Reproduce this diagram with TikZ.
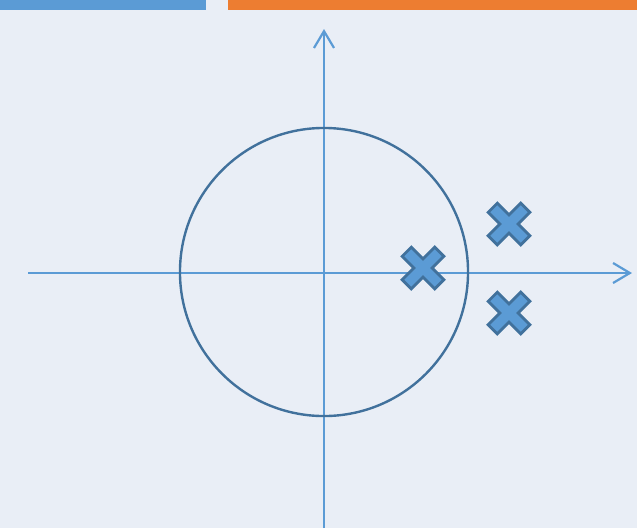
\documentclass[tikz,border=0pt]{standalone}
\usepackage{tikz}
\usetikzlibrary{arrows.meta, positioning}

\definecolor{bgcol}{HTML}{E9EEF6}
\definecolor{axcol}{HTML}{5B9BD5}
\definecolor{edgecol}{HTML}{41719C}
\definecolor{barcol}{HTML}{ED7D31}

\tikzset{
	axis/.style={draw=axcol, line width=0.055cm, -{Straight Barb[length=0.42cm, width=0.5cm, line width=0.055cm]}},
	unitcircle/.style={circle, draw=edgecol, line width=0.06cm, minimum size=7.2cm, inner sep=0pt},
	pole/.pic={
		\draw[fill=axcol, draw=edgecol, line width=0.07cm, line join=miter, rotate=45]
			(23,-6.5) -- (23,6.5) -- (6.5,6.5) -- (6.5,23) -- (-6.5,23) -- (-6.5,6.5) -- (-23,6.5) -- (-23,-6.5)
			-- (-6.5,-6.5) -- (-6.5,-23) -- (6.5,-23) -- (6.5,-6.5) -- cycle;
	}
}

\begin{document}
\begin{tikzpicture}[x=0.025cm, y=-0.025cm]
				% Background and top bars:
				\fill[bgcol] (0,0) rectangle (637,528);
				\useasboundingbox (0,0) rectangle (637,528);
				\fill[axcol] (0,0) rectangle (206,10);
				\fill[barcol] (228,0) rectangle (637,10);
				% Axes:
				\coordinate (Xl) at (28,273);
				\coordinate (Xr) at (632,273);
				\coordinate (Yb) at (324,528);
				\coordinate (Yt) at (324,29);
				\draw[axis] (Xl) -- (Xr);
				\draw[axis] (Yb) -- (Yt);
				% Unit circle and poles:
				\node[unitcircle](C1) at (324,272){};
				\pic (P1) at (423,268) {pole};
				\pic (P2) at (509,224) {pole};
				\pic (P3) at (509,313) {pole};
			\end{tikzpicture}
\end{document}
